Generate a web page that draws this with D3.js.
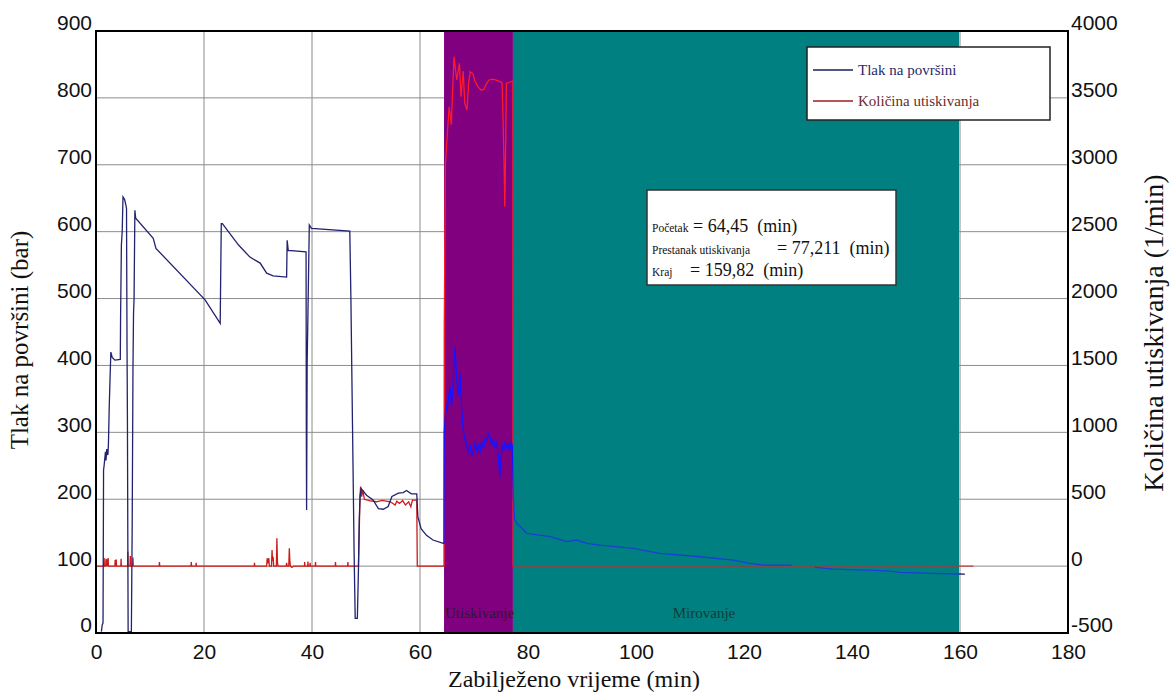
<!DOCTYPE html>
<html>
<head>
<meta charset="utf-8">
<script src="https://cdn.jsdelivr.net/npm/d3@7"></script>
<style>
  html, body { margin: 0; padding: 0; background: #fff; }
  svg { display: block; }
</style>
</head>
<body>
<svg id="chart" width="1170" height="697"></svg>
<script>
// ---------------- DATA ----------------
const seriesNames = ["Tlak na površini", "Količina utiskivanja"];
const leftTicks = [0, 100, 200, 300, 400, 500, 600, 700, 800, 900];
const rightTicks = [-500, 0, 500, 1000, 1500, 2000, 2500, 3000, 3500, 4000];
const xTicks = [0, 20, 40, 60, 80, 100, 120, 140, 160, 180];
const phaseNames = ["Utiskivanje", "Mirovanje"];
const phaseBounds = [64.45, 77.211, 159.82];   // Početak, Prestanak utiskivanja, Kraj (min)
const phaseLabels = ["Početak", "Prestanak utiskivanja", "Kraj"];

// surface pressure (bar) vs time (min)
const pressureTime = [1.0, 1.15, 1.3, 1.4, 1.5, 1.75, 1.85, 2.0, 2.2, 2.3, 2.45, 2.6, 2.75, 3.0, 3.5, 4.5, 4.55, 4.7, 4.85, 5.0, 5.3, 5.5, 5.65, 5.75, 5.82, 5.95, 6.55, 6.7, 6.85, 6.95, 7.05, 7.2, 7.35, 10.6, 11.1, 20.2, 23.0, 23.1, 23.2, 23.4, 26.4, 28.5, 30.4, 31.6, 32.8, 35.3, 35.4, 35.6, 38.9, 38.95, 39.0, 39.1, 39.5, 39.9, 47.0, 47.2, 47.5, 47.8, 48.0, 48.4, 48.6, 48.75, 48.9, 49.1, 50.1, 51.3, 52.3, 53.2, 54.1, 54.8, 56.0, 56.9, 57.5, 58.4, 59.4, 59.6, 60.2, 61.2, 62.4, 64.3, 64.45, 64.5, 64.8, 65.0, 65.3, 65.6, 65.8, 66.0, 66.3, 66.5, 66.7, 66.8, 67.1, 67.4, 67.7, 68.0, 68.3, 68.6, 68.9, 69.3, 69.6, 69.9, 70.2, 70.5, 70.8, 71.1, 71.4, 71.8, 72.1, 72.4, 72.7, 73.0, 73.3, 73.6, 73.9, 74.2, 74.5, 74.8, 75.0, 75.2, 75.5, 75.7, 76.0, 76.3, 76.6, 76.9, 77.1, 77.3, 77.5, 77.9, 79.8, 84.1, 87.2, 89.0, 90.9, 93.3, 99.5, 104.4, 111.9, 118.0, 121.1, 123.6, 128.8, 130.5, 133.1, 136.5, 142.7, 146.4, 148.9, 155.1, 160.9];
const pressureBar = [2, 12, 15, 244, 250, 271, 258, 275, 266, 282, 338, 380, 420, 412, 408, 409, 470, 580, 600, 652, 648, 641, 635, 420, 318, 2, 2, 159, 400, 478, 500, 632, 620, 590, 575, 498, 463, 540, 612, 612, 580, 562, 553, 538, 534, 532, 587, 572, 570, 293, 184, 400, 610, 605, 601, 503, 311, 119, 22, 22, 94, 169, 204, 216, 206, 199, 186, 185, 189, 204, 209, 210, 213, 208, 208, 174, 156, 146, 139, 134, 134, 300, 343, 330, 353, 368, 340, 353, 400, 428, 390, 378, 355, 388, 338, 303, 290, 284, 270, 279, 265, 274, 285, 270, 283, 268, 286, 276, 292, 288, 298, 293, 280, 290, 276, 287, 264, 234, 262, 282, 272, 287, 275, 284, 272, 286, 279, 200, 170, 164, 149, 144, 136.5, 139, 134, 131.5, 126.6, 119, 114, 109, 104, 101.6, 101.6, null, 98, 95.6, 94, 93, 90.7, 89, 88];

// injection rate (l/min) vs time (min)
const rateTime = [0, 1.4, 1.5, 1.55, 1.8, 1.85, 1.9, 2.1, 2.15, 2.25, 2.3, 3.5, 3.55, 3.6, 3.75, 3.8, 4.6, 4.65, 4.7, 5.85, 5.9, 5.95, 6.3, 6.35, 6.4, 6.8, 6.85, 6.9, 11.7, 11.75, 11.8, 17.6, 17.65, 17.7, 18.5, 18.55, 18.6, 29.3, 29.35, 29.4, 31.6, 31.7, 31.8, 32.0, 32.1, 32.5, 32.6, 32.7, 32.8, 32.9, 33.4, 33.5, 33.6, 33.7, 35.2, 35.3, 35.4, 35.7, 35.8, 35.9, 36.0, 36.3, 36.6, 38.6, 38.65, 38.7, 39.2, 39.25, 39.3, 39.6, 39.65, 39.7, 40.6, 40.65, 40.7, 44.3, 44.35, 44.4, 46.6, 46.65, 46.7, 48.6, 48.9, 49.0, 49.2, 49.4, 49.7, 50.6, 51.9, 53.0, 54.5, 55.4, 55.7, 56.2, 56.8, 57.3, 57.9, 58.3, 58.6, 59.4, 59.5, 64.45, 64.5, 64.7, 64.9, 65.4, 65.8, 66.3, 66.8, 67.3, 67.6, 68.0, 68.3, 68.7, 69.0, 69.3, 69.8, 70.1, 70.7, 71.3, 71.9, 72.2, 72.8, 73.4, 74.0, 74.9, 75.2, 75.4, 75.6, 75.7, 75.8, 76.0, 76.5, 77.1, 77.21, 77.25, 162.5];
const rateLpm = [0, 0, 60, 0, 0, 55, 0, 50, 0, 60, 0, 0, 45, 0, 50, 0, 0, 55, 0, 0, 110, 0, 0, 75, 0, 0, 65, 0, 0, 30, 0, 0, 30, 0, 0, 25, 0, 0, 25, 0, 0, 58, 20, 60, 0, 0, 120, 40, 70, 0, 0, 208, 30, 0, 0, 25, 0, 0, 133, 40, 0, -10, 0, 0, 30, 0, 0, 35, 0, 0, 25, 0, 0, 30, 0, 0, 30, 0, 0, 30, 0, 0, 532, 594, 519, 569, 499, 489, 481, 492, 481, 457, 485, 469, 490, 457, 481, 444, 494, 494, 0, 0, 1800, 3000, 3135, 3434, 3300, 3808, 3634, 3759, 3509, 3700, 3459, 3409, 3609, 3696, 3680, 3634, 3584, 3559, 3565, 3600, 3634, 3640, 3634, 3620, 3610, 3310, 2936, 2687, 2936, 3609, 3615, 3625, 3620, 0, 0];

// ---------------- CHART ----------------
const svg = d3.select("#chart");
const L = 96, R = 1068, T = 31, B = 633;

const x = d3.scaleLinear().domain([0, 180]).range([L, R]);
const yL = d3.scaleLinear().domain([0, 900]).range([B, T]);
const yR = d3.scaleLinear().domain([-500, 4000]).range([B, T]);

const sansFont = "'Liberation Sans', Arial, sans-serif";
const serifFont = "'Liberation Serif', 'Times New Roman', serif";

// grid
const grid = svg.append("g");
grid.selectAll("line.h").data(leftTicks.slice(1, -1)).enter().append("line")
  .attr("x1", L).attr("x2", R).attr("y1", d => yL(d)).attr("y2", d => yL(d))
  .attr("stroke", "#8c8c8c").attr("stroke-width", 1);
grid.selectAll("line.v").data(xTicks.slice(1, -1)).enter().append("line")
  .attr("y1", T).attr("y2", B).attr("x1", d => x(d)).attr("x2", d => x(d))
  .attr("stroke", "#8c8c8c").attr("stroke-width", 1);

// phase shading
const phaseColors = ["#800080", "#008080"];
svg.selectAll("rect.phase").data(phaseNames).enter().append("rect")
  .attr("x", (d, i) => x(phaseBounds[i]))
  .attr("width", (d, i) => x(phaseBounds[i + 1]) - x(phaseBounds[i]))
  .attr("y", T).attr("height", B - T)
  .attr("fill", (d, i) => phaseColors[i]);

// phase labels
svg.append("text").attr("x", x(phaseBounds[0]) + 1).attr("y", 618)
  .attr("font-family", serifFont).attr("font-size", 15).attr("fill", "#2a1a2a")
  .text(phaseNames[0]);
svg.append("text").attr("x", 704).attr("y", 618).attr("text-anchor", "middle")
  .attr("font-family", serifFont).attr("font-size", 15).attr("fill", "#123c3c")
  .text(phaseNames[1]);

// clip regions for line colouring
const defs = svg.append("defs");
const regions = [
  { id: "cW", x0: 0, x1: phaseBounds[0] },
  { id: "cP", x0: phaseBounds[0], x1: phaseBounds[1] },
  { id: "cT", x0: phaseBounds[1], x1: phaseBounds[2] },
  { id: "cR", x0: phaseBounds[2], x1: 180 }
];
regions.forEach(r => {
  defs.append("clipPath").attr("id", r.id).append("rect")
    .attr("x", x(r.x0)).attr("width", x(r.x1) - x(r.x0))
    .attr("y", 0).attr("height", 697);
});

const pData = pressureTime.map((t, i) => ({ t, v: pressureBar[i] }));
const rData = rateTime.map((t, i) => ({ t, v: rateLpm[i] }));

const pLine = d3.line().defined(d => d.v !== null).x(d => x(d.t)).y(d => yL(d.v));
const rLine = d3.line().x(d => x(d.t)).y(d => yR(d.v));

const redCols = { cW: "#cc1a1a", cP: "#ff1a2a", cT: "#9a3c3c", cR: "#c84040" };
const blueCols = { cW: "#22226e", cP: "#1414ff", cT: "#1a3fd6", cR: "#22226e" };

regions.forEach(r => {
  svg.append("path").datum(rData).attr("d", rLine)
    .attr("clip-path", `url(#${r.id})`)
    .attr("fill", "none").attr("stroke", redCols[r.id]).attr("stroke-width", 1.3);
});
regions.forEach(r => {
  svg.append("path").datum(pData).attr("d", pLine)
    .attr("clip-path", `url(#${r.id})`)
    .attr("fill", "none").attr("stroke", blueCols[r.id]).attr("stroke-width", 1.3);
});

// frame
svg.append("rect").attr("x", L).attr("y", T).attr("width", R - L).attr("height", B - T)
  .attr("fill", "none").attr("stroke", "#000").attr("stroke-width", 2);

// axes (labels only, via d3 axes)
const plain = d => String(d);
const axL = d3.axisLeft(yL).tickValues(leftTicks).tickFormat(plain).tickSize(0).tickPadding(4);
const gL = svg.append("g").attr("transform", `translate(${L},0)`).call(axL);
const axRt = d3.axisRight(yR).tickValues(rightTicks).tickFormat(plain).tickSize(0).tickPadding(3);
const gR = svg.append("g").attr("transform", `translate(${R},0)`).call(axRt);
const axB = d3.axisBottom(x).tickValues(xTicks).tickFormat(plain).tickSize(0).tickPadding(10);
const gB = svg.append("g").attr("transform", `translate(0,${B})`).call(axB);
[gL, gR, gB].forEach(g => {
  g.select(".domain").remove();
  g.selectAll("text").attr("font-family", sansFont).attr("font-size", 21).attr("fill", "#111");
});
gL.selectAll("text").attr("dy", "-0.05em");
gR.selectAll("text").attr("dy", "-0.05em");
gB.selectAll("text").attr("dy", "0.75em");

// axis titles
svg.append("text").attr("transform", `translate(28,340) rotate(-90)`)
  .attr("text-anchor", "middle").attr("font-family", serifFont).attr("font-size", 25).attr("fill", "#111")
  .text("Tlak na površini (bar)");
svg.append("text").attr("transform", `translate(1163,333) rotate(-90)`)
  .attr("text-anchor", "middle").attr("font-family", serifFont).attr("font-size", 28).attr("fill", "#111")
  .text("Količina utiskivanja (1/min)");
svg.append("text").attr("x", 574).attr("y", 687)
  .attr("text-anchor", "middle").attr("font-family", serifFont).attr("font-size", 24).attr("fill", "#111")
  .text("Zabilježeno vrijeme (min)");

// legend
const lg = svg.append("g");
lg.append("rect").attr("x", 807).attr("y", 47).attr("width", 243).attr("height", 73)
  .attr("fill", "#fff").attr("stroke", "#222").attr("stroke-width", 1.5);
const legCols = ["#1c1c5c", "#a01c1c"];
const legText = ["#2a2a6a", "#6b2b2b"];
seriesNames.forEach((n, i) => {
  const yy = 70 + i * 31;
  lg.append("line").attr("x1", 813).attr("x2", 853).attr("y1", yy).attr("y2", yy)
    .attr("stroke", legCols[i]).attr("stroke-width", 1.5);
  lg.append("text").attr("x", 858).attr("y", yy + 5)
    .attr("font-family", serifFont).attr("font-size", 15).attr("fill", legText[i]).text(n);
});

// annotation box
const ab = svg.append("g");
ab.append("rect").attr("x", 647).attr("y", 190).attr("width", 249).attr("height", 95)
  .attr("fill", "#fff").attr("stroke", "#333").attr("stroke-width", 1.5);
const fmt = v => String(v).replace(".", ",");
const bigX = [693, 777, 690];
phaseLabels.forEach((lab, i) => {
  const yy = 232 + i * 22;
  ab.append("text").attr("x", 652).attr("y", yy)
    .attr("font-family", serifFont).attr("font-size", 11.5).attr("fill", "#111").text(lab);
  ab.append("text").attr("x", bigX[i]).attr("y", yy).attr("xml:space", "preserve")
    .attr("font-family", serifFont).attr("font-size", 18).attr("fill", "#111")
    .text("= " + fmt(phaseBounds[i]) + "  (min)");
});
</script>
</body>
</html>
